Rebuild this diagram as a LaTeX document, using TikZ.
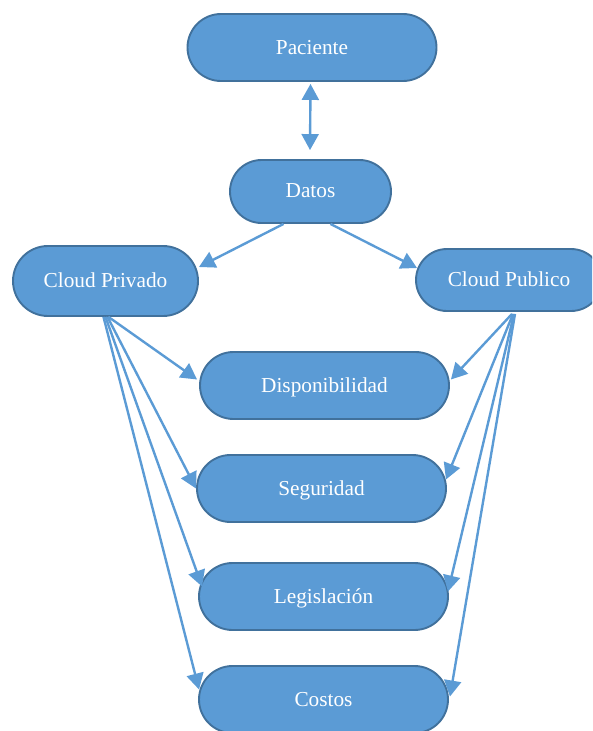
\documentclass[tikz,border=0pt]{standalone}
\usepackage{fontspec}
\setmainfont{Liberation Serif}
\usetikzlibrary{shapes.misc,arrows.meta,calc}
\definecolor{boxfill}{HTML}{5B9BD5}
\definecolor{boxline}{HTML}{41719C}
\definecolor{arrowcol}{HTML}{5B9BD5}
\tikzset{
  pill/.style={rounded rectangle, draw=boxline, fill=boxfill, line width=1.9pt,
    text=white, font=\fontsize{21.3}{25}\selectfont, inner sep=0pt,
    text depth=1pt},
  tip/.tip={Triangle[length=16pt,width=17pt]},
  link/.style={draw=arrowcol, line width=2.4pt, -tip},
  twoway/.style={draw=arrowcol, line width=2.4pt, tip-tip}
}
\begin{document}
\begin{tikzpicture}[x=1pt,y=-1pt]
  \clip (0,0) rectangle (592,731);
  \useasboundingbox (0,0) rectangle (592,731);

  % boxes
  \node[pill, minimum width=249pt, minimum height=67pt] (paciente) at (312,47.5) {Paciente};
  \node[pill, minimum width=161pt, minimum height=63pt] (datos) at (310.5,191.5) {Datos};
  \node[pill, minimum width=185pt, minimum height=70pt] (cpriv) at (105.5,281) {Cloud Privado};
  \node[pill, minimum width=186pt, minimum height=62pt] (cpub) at (509,280) {Cloud Publico};
  \node[pill, minimum width=249pt, minimum height=67pt] (disp) at (324.5,385.5) {Disponibilidad};
  \node[pill, minimum width=249pt, minimum height=67pt] (seg) at (321.5,488.5) {Seguridad};
  \node[pill, minimum width=249pt, minimum height=67pt] (leg) at (323.5,596.5) {Legislación};
  \node[pill, minimum width=249pt, minimum height=67pt] (cost) at (323.5,699.5) {Costos};

  % Paciente <-> Datos
  \draw[twoway] ($(paciente.south)+(-1.5,2)$) -- ($(datos.north)+(-0.5,-9)$);

  % Datos to the two clouds
  \draw[link] ($(datos.south)+(-27,0)$) -- ($(cpriv.east)+(0,-14)$);
  \draw[link] ($(datos.south)+(20,0)$) -- ($(cpub.west)+(2,-12)$);

  % private cloud to the criteria
  \draw[link] ($(cpriv.south)+(3,0)$) -- ($(disp.west)+(-2,-6)$);
  \draw[link] ($(cpriv.south)+(2,0)$) -- (seg.west);
  \draw[link] ($(cpriv.south)+(0,0)$) -- ($(leg.west)+(4,-10)$);
  \draw[link] ($(cpriv.south)+(-2,0)$) -- ($(cost.west)+(1,-10)$);

  % public cloud to the criteria
  \draw[link] ($(cpub.south)+(3,2)$) -- ($(disp.east)+(1,-6)$);
  \draw[link] ($(cpub.south)+(4,2)$) -- ($(seg.east)+(-1,-9)$);
  \draw[link] ($(cpub.south)+(5,2)$) -- ($(leg.east)+(-1,-5)$);
  \draw[link] ($(cpub.south)+(6,2)$) -- ($(cost.east)+(1,-3)$);
\end{tikzpicture}
\end{document}
